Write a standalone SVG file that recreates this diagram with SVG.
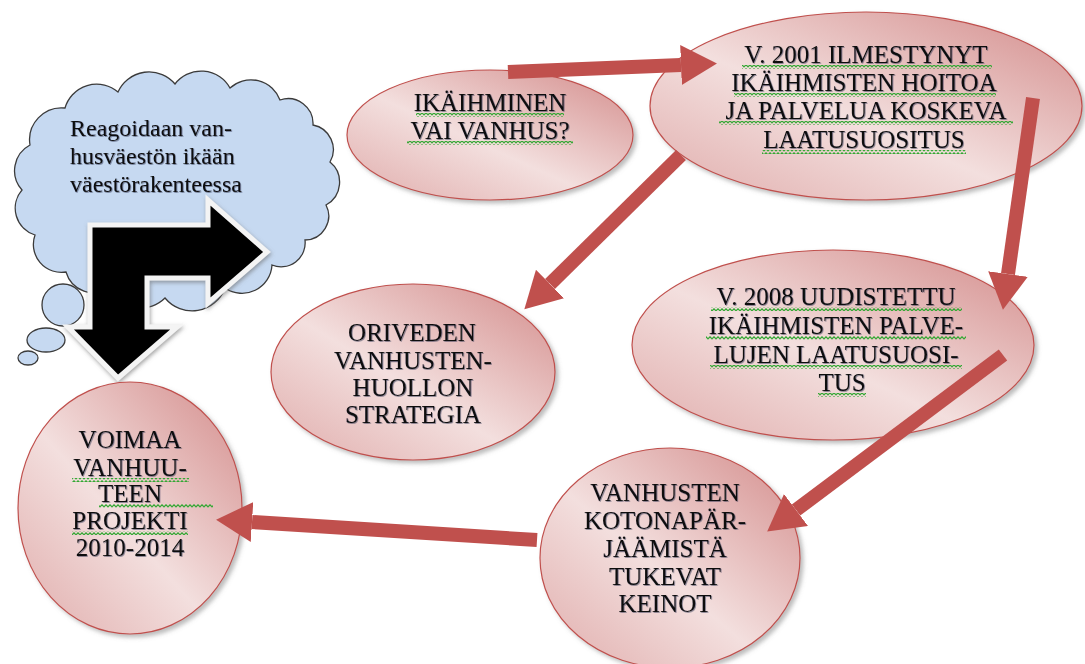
<svg xmlns="http://www.w3.org/2000/svg" width="1085" height="664" viewBox="0 0 1085 664">
<defs>
  <linearGradient id="pink" x1="0" y1="1" x2="1" y2="0">
    <stop offset="0" stop-color="#e0acab"/>
    <stop offset="0.45" stop-color="#f3dfde"/>
    <stop offset="1" stop-color="#d38b8a"/>
  </linearGradient>
  <filter id="shadow" x="-10%" y="-10%" width="125%" height="125%">
    <feDropShadow dx="3" dy="3" stdDeviation="2" flood-color="#7a7a7a" flood-opacity="0.5"/>
  </filter>
  <filter id="glow" x="-10%" y="-10%" width="125%" height="125%">
    <feDropShadow dx="1" dy="2" stdDeviation="2" flood-color="#666" flood-opacity="0.6"/>
  </filter>
  <filter id="tshadow" x="-5%" y="-20%" width="115%" height="150%">
    <feDropShadow dx="0.8" dy="0.8" stdDeviation="0.5" flood-color="#2a3550" flood-opacity="0.6"/>
  </filter>
  <pattern id="wavy" patternUnits="userSpaceOnUse" width="4" height="4">
    <path d="M-0.5,3.5 L2,0.8 L4.5,3.5" fill="none" stroke="#34a834" stroke-width="1.2"/>
  </pattern>
  <marker id="head" markerUnits="userSpaceOnUse" markerWidth="40" markerHeight="42" refX="0" refY="20" orient="auto">
    <path d="M0,0 L36,20 L0,40 z" fill="#c0504d"/>
  </marker>
  <style>
    .node ellipse { fill: url(#pink); stroke: #c0504d; stroke-width: 1.2; filter: url(#shadow); }
    .lbl { font-family: "Liberation Serif", "Times New Roman", serif; font-size: 25px; fill: #111; text-anchor: middle; filter: url(#tshadow); }
    .cloudtxt { font-family: "Liberation Serif", "Times New Roman", serif; font-size: 24px; fill: #111; filter: url(#tshadow); }
    .wave { fill: url(#wavy); }
    .cl { fill: #c6d9f1; stroke: #3b3b3b; stroke-width: 1.3; }
    .conn line { stroke: #c0504d; stroke-width: 14; marker-end: url(#head); }
  </style>
</defs>
<rect width="1085" height="664" fill="#ffffff"/>

<g id="cloud">
  <ellipse class="cl" cx="46" cy="340" rx="19" ry="12"/>
  <ellipse class="cl" cx="28" cy="358" rx="10" ry="7"/>
  <ellipse class="cl" cx="63" cy="305" rx="21" ry="21"/>
  <path class="cl" d="M30,145 A32,32 0 0 1 65,108 A33,33 0 0 1 118,92 A34,34 0 0 1 175,84 A33,33 0 0 1 230,88 A31,31 0 0 1 280,100 A25,25 0 0 1 313,125 A25,25 0 0 1 330,162 A26,26 0 0 1 326,205 A24,24 0 0 1 305,240 A24,24 0 0 1 272,265 A30,30 0 0 1 225,288 A35,35 0 0 1 165,298 A34,34 0 0 1 110,288 A29,29 0 0 1 66,272 A28,28 0 0 1 35,235 A28,28 0 0 1 22,190 A29,29 0 0 1 30,145 Z"/>
  <text class="cloudtxt" x="70" y="136">Reagoidaan van-</text>
  <text class="cloudtxt" x="70" y="164">husväestön ikään</text>
  <text class="cloudtxt" x="70" y="192">väestörakenteessa</text>
</g>

<g id="turn-arrow" filter="url(#glow)">
  <polygon points="90,327 68,327 118,378 177,327 147,327 147,278 208,278 208,303 267,252 208,200 208,225 90,225" fill="#000" stroke="#f4f4f4" stroke-width="5" stroke-linejoin="miter"/>
</g>

<g id="n-ikaihminen" class="node">
  <ellipse cx="490" cy="135" rx="143" ry="65"/>
  <text class="lbl" x="490" y="111">IKÄIHMINEN</text>
  <text class="lbl" x="490" y="139">VAI VANHUS?</text>
  <rect class="wave" x="416" y="113" width="148" height="4"/>
  <rect class="wave" x="407" y="141" width="166" height="4"/>
</g>

<g id="n-2001" class="node">
  <ellipse cx="866" cy="106" rx="216" ry="94"/>
  <text class="lbl" x="866" y="63">V. 2001 ILMESTYNYT</text>
  <text class="lbl" x="864" y="91">IKÄIHMISTEN HOITOA</text>
  <text class="lbl" x="866" y="119">JA PALVELUA KOSKEVA</text>
  <text class="lbl" x="864" y="148">LAATUSUOSITUS</text>
  <rect class="wave" x="742" y="65" width="250" height="4"/>
  <rect class="wave" x="734" y="93" width="262" height="4"/>
  <rect class="wave" x="719" y="121" width="294" height="4"/>
  <rect class="wave" x="762" y="150" width="204" height="4"/>
</g>

<g id="n-orivesi" class="node">
  <ellipse cx="413" cy="372" rx="142" ry="88"/>
  <text class="lbl" x="412" y="341">ORIVEDEN</text>
  <text class="lbl" x="413" y="369">VANHUSTEN-</text>
  <text class="lbl" x="413" y="396">HUOLLON</text>
  <text class="lbl" x="413" y="423">STRATEGIA</text>
</g>

<g id="n-2008" class="node">
  <ellipse cx="833" cy="345" rx="201" ry="95"/>
  <text class="lbl" x="836" y="305">V. 2008 UUDISTETTU</text>
  <text class="lbl" x="836" y="334">IKÄIHMISTEN PALVE-</text>
  <text class="lbl" x="836" y="363">LUJEN LAATUSUOSI-</text>
  <text class="lbl" x="842" y="391">TUS</text>
  <rect class="wave" x="711" y="307" width="251" height="4"/>
  <rect class="wave" x="706" y="336" width="260" height="4"/>
  <rect class="wave" x="710" y="365" width="252" height="4"/>
  <rect class="wave" x="818" y="393" width="48" height="4"/>
</g>

<g id="n-kotona" class="node">
  <ellipse cx="670" cy="558" rx="130" ry="110"/>
  <text class="lbl" x="665" y="501">VANHUSTEN</text>
  <text class="lbl" x="665" y="529">KOTONAPÄR-</text>
  <text class="lbl" x="665" y="557">JÄÄMISTÄ</text>
  <text class="lbl" x="665" y="585">TUKEVAT</text>
  <text class="lbl" x="665" y="612">KEINOT</text>
</g>

<g id="n-voimaa" class="node">
  <ellipse cx="130" cy="508" rx="112" ry="126"/>
  <text class="lbl" x="130" y="448">VOIMAA</text>
  <text class="lbl" x="130" y="476">VANHUU-</text>
  <text class="lbl" x="130" y="502">TEEN</text>
  <text class="lbl" x="130" y="529">PROJEKTI</text>
  <text class="lbl" x="130" y="556">2010-2014</text>
  <rect class="wave" x="72" y="478" width="117" height="4"/>
  <rect class="wave" x="99" y="504" width="114" height="4"/>
  <rect class="wave" x="72" y="531" width="116" height="4"/>
</g>

<g id="connectors" class="conn">
  <line x1="508" y1="72" x2="681" y2="65"/>
  <line x1="681" y1="155" x2="550" y2="284"/>
  <line x1="1033" y1="98" x2="1008" y2="274"/>
  <line x1="1003" y1="355" x2="796" y2="510"/>
  <line x1="537" y1="540" x2="252" y2="522"/>
</g>
</svg>
